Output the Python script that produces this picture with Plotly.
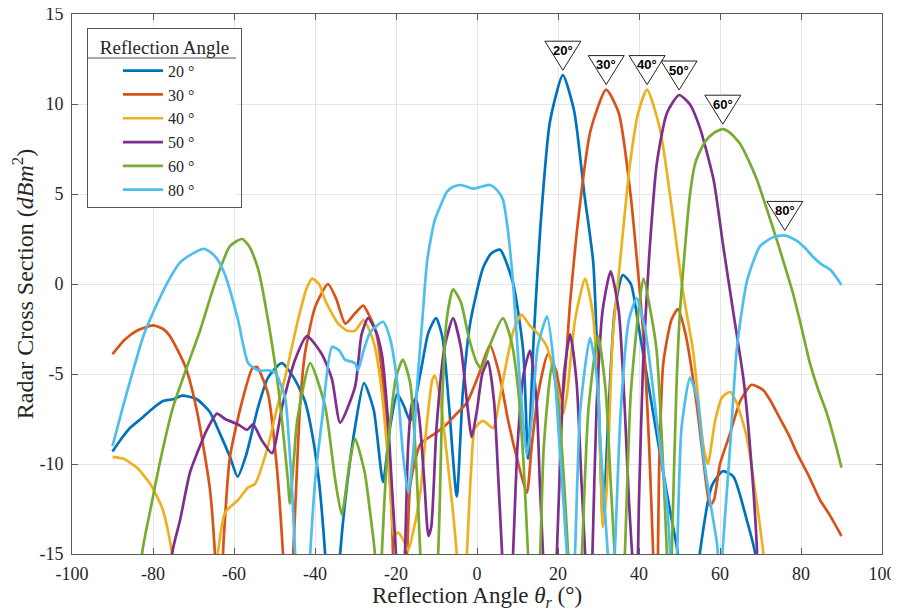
import plotly.graph_objects as go

# ---------------- data ----------------
x_ticks = [-100, -80, -60, -40, -20, 0, 20, 40, 60, 80, 100]
y_ticks = [-15, -10, -5, 0, 5, 10, 15]

steer_angles = [20, 30, 40, 50, 60, 80]
legend_names = ["20 °", "30 °", "40 °", "50 °", "60 °", "80 °"]
peak_labels = ["20°", "30°", "40°", "50°", "60°", "80°"]
line_colors = ["#0072BD", "#D95319", "#EDB120", "#7E2F8E", "#77AC30", "#4DBEEE"]

rcs_20 = [(-90, -9.3), (-87.5, -8.5), (-85.7, -8.0), (-82.5, -7.4), (-80, -6.9), (-77.5, -6.5),
          (-75, -6.4), (-72.8, -6.2), (-69.2, -6.4), (-66, -7.1), (-63.5, -8.3), (-61, -9.6),
          (-59.1, -10.7), (-57, -9.5), (-54, -6.8), (-51.6, -5.2), (-48.2, -4.4), (-45, -5.3),
          (-42.5, -6.5), (-40.8, -8.2), (-39, -11), (-37.5, -15), (-35.7, -22), (-33.8, -15),
          (-32, -11), (-30, -7.8), (-27.9, -5.5), (-25.5, -7), (-23.2, -11), (-21.5, -8),
          (-19.7, -6.1), (-18, -6.8), (-16.5, -7.6), (-14, -5), (-12, -2.7), (-10.1, -1.9),
          (-8.5, -3), (-7, -6.5), (-5, -11.8), (-3.5, -6), (-1.7, -2.2), (1.5, 0.9), (3.5, 1.7),
          (5.7, 1.9), (8.9, 0.05), (11.4, -3.7), (12.6, -9.7), (14, -3), (15.6, 3.0), (18, 9),
          (21.2, 11.6), (24, 9.6), (26.5, 5), (28.7, 1.2), (30, -6), (31.1, -13.3), (32.5, -7),
          (34, -1.5), (36, 0.5), (38, 0), (40, -2.5), (43, -6.5), (46, -10.5), (48, -13),
          (49.6, -15), (52, -22), (55, -15), (58, -11.2), (60.7, -10.4), (63.3, -10.7),
          (66.6, -13.1), (68.7, -15), (72, -25), (90, -25)]

rcs_30 = [(-90, -3.9), (-87, -3.1), (-84, -2.6), (-80, -2.3), (-77.5, -2.5), (-75.8, -2.9),
          (-72, -4.6), (-69.2, -7.0), (-66, -11.3), (-64.7, -15), (-63.8, -20), (-62.5, -14),
          (-61, -9.6), (-58.1, -6.6), (-55.5, -4.7), (-54.4, -4.6), (-51.6, -6.1), (-49.5, -10),
          (-47.9, -15), (-46.8, -20), (-45.4, -15), (-43.7, -6.8), (-42.5, -3.9), (-40, -1.3),
          (-36.8, 0.0), (-34.8, -0.8), (-32.5, -2.2), (-30, -1.6), (-28.1, -1.2), (-26.5, -1.8),
          (-24.8, -2.8), (-23, -6), (-21, -13), (-20, -20), (-17.3, -15), (-16.5, -11.2),
          (-14, -8.9), (-11, -8.4), (-8, -7.9), (-5, -7.2), (-2.5, -6.6), (0.5, -5.0),
          (3.2, -3.4), (5.5, -5.0), (7.7, -7.6), (10, -9.8), (12.3, -11.6), (13.5, -9),
          (15.1, -6.1), (17.5, -3.9), (19.5, -4.8), (21, -6.4), (23, -1), (25, 3.6), (28, 8.5),
          (31.9, 10.8), (35, 9.5), (37.8, 5.2), (41, -2.6), (42.5, -9), (43.5, -15), (44.3, -20),
          (45, -10), (46, -4.4), (48, -2.0), (49.6, -1.4), (51.5, -2.8), (54.3, -6.8), (56, -10),
          (57.5, -12.3), (58.5, -12), (60, -10), (62.5, -8.3), (65, -6.5), (67.8, -5.6),
          (70.7, -5.9), (72.5, -6.5), (74.4, -7.3), (77, -8.4), (79, -9.4), (82, -10.7),
          (84.7, -12), (87, -12.8), (90, -14.0)]

rcs_40 = [(-90, -9.6), (-87.4, -9.7), (-84, -10.2), (-80.7, -11.1), (-77.8, -12.4), (-76.5, -13.5),
          (-75.3, -15), (-73, -20), (-68, -25), (-65.5, -20), (-64, -15), (-62.2, -12.7),
          (-59, -12.0), (-56.5, -11.3), (-54.8, -11.1), (-51.6, -9.0), (-49.5, -7), (-47.4, -5.2),
          (-44.2, -2.0), (-42, -0.2), (-40.7, 0.3), (-39, 0), (-37.5, -0.9), (-34.3, -2.2),
          (-32, -2.6), (-30.1, -2.6), (-28, -2.0), (-26.5, -2.6), (-25.2, -3.5), (-23.5, -6),
          (-21.5, -11), (-20.5, -14), (-19.5, -13.8), (-18, -14.3), (-17, -14.8), (-15.5, -13.5),
          (-14, -11.6), (-12.5, -8), (-11, -5.3), (-10.4, -5.1), (-9, -6.5), (-7.5, -9.4),
          (-6, -12.5), (-5, -15), (-3.8, -20), (-2.5, -15), (-1.5, -10.5), (-0.5, -8.0),
          (1.5, -7.6), (4, -8.0), (5.5, -6.5), (6.9, -4.8), (9, -2.6), (11, -1.7), (13, -2.3),
          (14.8, -2.7), (17.3, -3.5), (19.3, -5.3), (21.3, -7.2), (22.3, -6), (24.2, -2.0),
          (26.7, 0.3), (28.5, -1.5), (29.9, -5.7), (31.1, -13.5), (32, -11.5), (33.5, -3),
          (35.3, 1.2), (37.8, 6.7), (39.8, 9.5), (42, 10.8), (45.2, 8.6), (48.4, 3.7),
          (50.9, -0.5), (53.4, -3.8), (55.9, -9.0), (57, -10), (58.8, -7.6), (60.5, -6.3),
          (62.5, -6.0), (64.1, -6.6), (66.6, -8.5), (69.1, -12.2), (70.7, -15), (73, -25),
          (90, -25)]

rcs_50 = [(-90, -25), (-77, -25), (-75.3, -15), (-73.3, -13.1), (-70.9, -10.5), (-68.4, -9.0),
          (-66.7, -8.1), (-64.2, -7.2), (-62.2, -7.5), (-59, -7.8), (-56.8, -8.1), (-55.3, -7.8),
          (-53.1, -8.7), (-50.6, -9.4), (-48.1, -6.8), (-44.9, -4.2), (-42, -2.9), (-38.3, -3.9),
          (-35.8, -5.3), (-33.8, -7.7), (-30.1, -5.7), (-28.5, -2.8), (-26.9, -1.9), (-25, -2.6),
          (-23.5, -3.9), (-22, -7.5), (-21, -11.3), (-20, -15), (-19, -20), (-17.8, -15),
          (-17, -9), (-16, -6.6), (-15, -6.4), (-14, -8), (-13, -11), (-12, -14), (-11.3, -13.5),
          (-10, -8), (-8, -3.5), (-5.9, -1.9), (-4, -3.5), (-2.5, -6.5), (-1.3, -8.5), (0, -7),
          (1.3, -5), (2.7, -4.3), (4.2, -6.5), (5.3, -11), (6.2, -15), (7.5, -22), (8.9, -15),
          (10, -9), (11.5, -5), (13.1, -3.7), (14.7, -6.5), (15.5, -11), (16.3, -15), (18, -22),
          (19.7, -15), (20.5, -10), (21.5, -5), (23, -2.8), (24.6, -5.5), (25.8, -11),
          (26.7, -15), (27.7, -20), (28.5, -15), (29.5, -7), (31, -1.5), (33, 0.7), (35, -1.5),
          (36.5, -7), (37.5, -12), (38.3, -15), (39.3, -19), (40, -12), (41, -4.5), (42.5, 1.5),
          (44.4, 6.7), (46.9, 9.5), (49.9, 10.5), (52.5, 10), (55, 8.7), (58.4, 5.8),
          (60.8, 2.1), (63.3, -1.6), (65.8, -5.3), (67.4, -9.0), (69.1, -14.6), (70.5, -25),
          (90, -25)]

rcs_60 = [(-90, -25), (-84, -25), (-82.7, -15), (-80.7, -12.6), (-77.8, -9.4), (-75, -6.8),
          (-71.6, -4.6), (-68.4, -2.6), (-64.7, 0.05), (-61, 2.1), (-58, 2.5), (-56, 2.0),
          (-54, 0.8), (-51.6, -2.0), (-49.1, -5.7), (-46.7, -10.9), (-46.2, -12.2), (-45.3, -10),
          (-44.4, -7.6), (-41.2, -4.4), (-37.5, -6.8), (-35, -10.9), (-33.4, -12.8), (-31.5, -10),
          (-30.1, -8.6), (-27.7, -10.5), (-26.5, -12.5), (-25.2, -15), (-24.3, -20), (-23.5, -15),
          (-22, -9), (-20, -5.2), (-18.3, -4.2), (-16.5, -5.5), (-15, -10), (-14, -15),
          (-12, -22), (-9.6, -15), (-8.5, -6), (-7.5, -2), (-5.9, -0.3), (-4, -1), (-2, -3),
          (0, -4.4), (1.2, -4.7), (3, -3.5), (6.4, -1.9), (8.5, -3.2), (10.1, -5.7), (11.5, -10),
          (12.6, -15), (14, -22), (15.6, -15), (16.5, -9), (18.5, -4.5), (20, -6.5), (21.5, -11),
          (22.5, -15), (24.2, -22), (25.9, -15), (27.5, -7), (29.9, -2.9), (31.8, -6), (33, -11),
          (34, -15), (35.2, -20), (36.5, -15), (38, -6), (41.1, 0.3), (43, -1.7), (44.4, -3.8),
          (45.5, -8), (46.9, -15), (47.5, -20), (48.1, -15), (49.2, -6), (50.1, -1.6),
          (52.6, 5.0), (54, 6.8), (56.3, 7.9), (58.5, 8.4), (60.7, 8.6), (62.5, 8.4), (64.9, 7.8),
          (67, 6.9), (69.1, 5.8), (71.5, 4.2), (74.1, 2.4), (76, 1.0), (78, -0.5), (80, -2.3),
          (82.2, -4.4), (84.3, -5.9), (86.4, -7.2), (88.3, -8.7), (90, -10.2)]

rcs_80 = [(-90, -9.0), (-87.4, -6.8), (-84.9, -4.8), (-82.4, -2.9), (-80, -1.6), (-76.5, 0.05),
          (-73.3, 1.2), (-70.1, 1.7), (-67.6, 1.95), (-66, 1.8), (-64.2, 1.4), (-62.2, 0.5),
          (-59, -2.0), (-56.5, -4.4), (-54, -4.8), (-51.5, -4.8), (-49.9, -4.9), (-47.4, -6.3),
          (-46.5, -8.5), (-45.7, -11.3), (-44.9, -15), (-43, -22), (-41.2, -15), (-40, -11),
          (-38.3, -7.6), (-35.8, -3.5), (-34, -3.7), (-32.6, -4.2), (-30.1, -4.4), (-29.4, -4.8),
          (-28, -3.7), (-26.4, -2.7), (-23.2, -2.1), (-21.5, -3), (-19.8, -5.3), (-18.3, -9.4),
          (-17, -11.6), (-15.8, -9.5), (-14.8, -5.7), (-13.5, -2), (-12.3, 1.3), (-10.5, 3.5),
          (-9.1, 4.3), (-7.5, 5.1), (-5.9, 5.4), (-4, 5.5), (-1, 5.3), (1, 5.4), (3.2, 5.5),
          (5, 5.2), (6.4, 4.7), (7.5, 3.2), (8.9, 0.05), (10.6, -5.5), (12.3, -9.5), (13.5, -7.5),
          (15, -3.5), (17.3, -1.8), (19, -4.5), (20.5, -9.4), (22.2, -15), (23.2, -20),
          (24.2, -15), (25.5, -7), (27.9, -3.0), (29.5, -5), (30.5, -9), (32.3, -15), (33, -19),
          (34, -15), (35.5, -7), (37.5, -2), (39.4, -0.8), (41.5, -2.5), (44.4, -7.6),
          (46.9, -12.2), (47.7, -15), (48.5, -20), (49.4, -15), (50.5, -8), (52.6, -5.2),
          (54.5, -6.5), (55.8, -9.4), (57.5, -12), (59.3, -14.5), (60, -17), (60.7, -14.6),
          (62.5, -9.0), (64.2, -3.5), (66.7, 0.2), (69.9, 2.1), (73.1, 2.6), (76, 2.7), (79, 2.4),
          (81, 2.0), (83, 1.5), (85, 1.1), (87.2, 0.8), (90, -0.05)]

all_series = [rcs_20, rcs_30, rcs_40, rcs_50, rcs_60, rcs_80]

# ---------------- figure ----------------
SERIF = "Liberation Serif, DejaVu Serif, serif"
TXT = "#262626"
fig = go.Figure()

for name, col, data in zip(legend_names, line_colors, all_series):
    xs = [p[0] for p in data]
    ys = [p[1] for p in data]
    fig.add_trace(go.Scatter(x=xs, y=ys, mode="lines", name=name,
                             line=dict(color=col, width=2.7, shape="spline", smoothing=0.6)))

# peak markers: downward triangles with the steering angle inside
for ang, lab, data in zip(steer_angles, peak_labels, all_series):
    near = [p for p in data if abs(p[0] - ang) <= 12]
    px_, py_ = max(near, key=lambda p: p[1])
    fig.add_shape(type="path", xref="x", yref="y", xsizemode="pixel", ysizemode="pixel",
                  xanchor=px_, yanchor=py_, path="M-18,34 L18,34 L0,5 Z",
                  fillcolor="white", line=dict(color="#222222", width=1), layer="above")
    fig.add_annotation(x=px_, y=py_, xref="x", yref="y", yshift=25, showarrow=False,
                       text="<b>%s</b>" % lab,
                       font=dict(family="Arial, Liberation Sans, sans-serif", size=13, color="black"))


def pxx(page_x):  # page pixel -> paper x (plot area spans page x 72..882)
    return (page_x - 72) / 810


def pyy(page_y):  # page pixel -> paper y (plot area spans page y 14..554)
    return 1 - (page_y - 14) / 540


LEG_RIGHT = 236
# white panel behind the (transparent) legend and separator line under its title
fig.add_shape(type="rect", xref="paper", yref="paper",
              x0=pxx(87), x1=pxx(LEG_RIGHT), y0=pyy(208), y1=pyy(28),
              fillcolor="white", line=dict(width=0), layer="above")
fig.add_shape(type="line", xref="paper", yref="paper",
              x0=pxx(87), x1=pxx(LEG_RIGHT), y0=pyy(58), y1=pyy(58),
              line=dict(color="#555555", width=1), layer="above")

# x axis title as text placed under the tick labels
fig.add_annotation(x=0.5, y=pyy(597), xref="paper", yref="paper", showarrow=False,
                   xanchor="center", yanchor="middle",
                   text="Reflection Angle <i>θ<sub>r</sub></i> (°)",
                   font=dict(family=SERIF, size=23, color=TXT))

# page is rendered with an 8px body offset, margins compensate for it
fig.update_layout(
    width=899, height=610,
    margin=dict(l=64, r=25, t=6, b=64, autoexpand=False),
    paper_bgcolor="white", plot_bgcolor="white",
    font=dict(family=SERIF, size=17, color=TXT),
    showlegend=True,
    legend=dict(x=0.0185, y=0.974, xanchor="left", yanchor="top",
                bgcolor="rgba(0,0,0,0)", bordercolor="#555555", borderwidth=1,
                indentation=30, itemwidth=40,
                font=dict(family=SERIF, size=16, color=TXT),
                title=dict(text="\u2002Reflection Angle\u2002", side="top center",
                           font=dict(family=SERIF, size=19, color=TXT)),
                tracegroupgap=0),
)

axis_common = dict(showgrid=True, gridcolor="#e6e6e6", gridwidth=1, zeroline=False,
                   showline=True, linecolor="#5a5a5a", linewidth=1, mirror="ticks",
                   ticks="inside", ticklen=6, tickcolor="#5a5a5a",
                   ticklabeloverflow="allow",
                   tickfont=dict(family=SERIF, size=18, color=TXT))

fig.update_xaxes(range=[-100, 100], tickvals=x_ticks, ticktext=[str(v) for v in x_ticks],
                 ticklabelstandoff=3, **axis_common)
fig.update_yaxes(range=[-15, 15], tickvals=y_ticks, ticktext=[str(v) for v in y_ticks],
                 ticklabelstandoff=4,
                 title=dict(text="Radar Cross Section (<i>dBm</i><sup>2</sup>)",
                            font=dict(family=SERIF, size=24, color=TXT), standoff=6),
                 **axis_common)

fig.write_html("out.html")
